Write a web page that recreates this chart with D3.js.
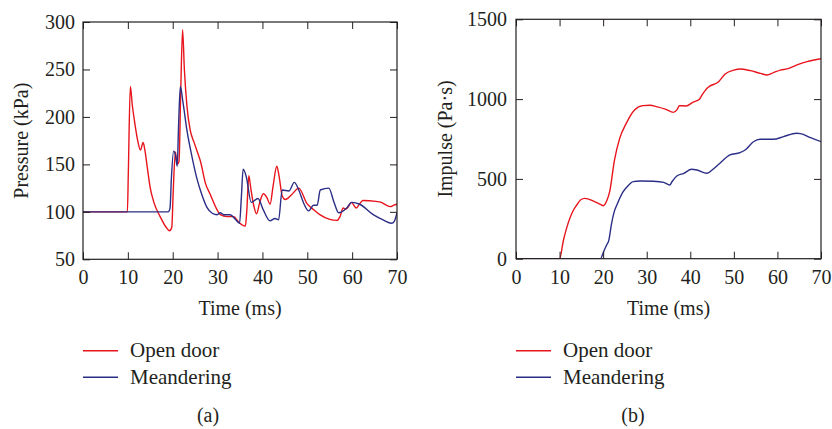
<!DOCTYPE html>
<html>
<head>
<meta charset="utf-8">
<script src="https://cdn.jsdelivr.net/npm/d3@7"></script>
<style>
  html, body { margin: 0; padding: 0; background: #fff; }
  svg { display: block; }
  text { font-family: "Liberation Serif", "DejaVu Serif", serif; fill: #231f20; }
</style>
</head>
<body>
<script>
// ---------------- DATA ----------------
const seriesNames = ["Open door", "Meandering"];
const xTicks = [0, 10, 20, 30, 40, 50, 60, 70];
const pressureTicks = [50, 100, 150, 200, 250, 300];
const impulseTicks = [0, 500, 1000, 1500];

// Pressure (kPa) vs time (ms)
const pressureOpen = [
  [0,100],[9.9,100],[10.1,140],[10.55,232],[11.0,212],[11.5,195],[12.2,175],[12.8,165],[13.4,173],
  [13.8,165],[14.3,148],[15.0,125],[15.8,110],[17.2,95],[18.5,84],[19.3,80],[19.8,84],[20.1,120],
  [20.6,163],[21.0,150],[21.4,153],[21.8,230],[22.2,292],[22.6,250],[23.2,210],[23.9,186],[24.7,174],
  [25.5,163],[26.2,153],[27.3,130],[28.4,118],[29.9,102],[30.6,97],[32.1,95],[33.6,95],[34.7,89],
  [36.2,85],[36.5,100],[36.97,138],[37.4,125],[38.0,108],[38.7,98],[39.4,110],[40.2,119],[41.0,115],
  [41.7,108],[42.4,128],[43.2,148],[43.7,138],[44.4,117],[45.1,113],[46.5,118],[48.1,125],[49.9,109],
  [51.5,102],[52.8,97],[55.0,92],[56.6,91],[57.3,95],[58.0,104],[58.6,103],[59.1,105],[59.8,110],
  [60.9,104],[61.6,108],[62.4,112],[65.3,111],[66.5,110],[67.6,107],[68.5,105.5],[69.3,107],[70,108]
];
const pressureMeander = [
  [0,100],[19.0,100],[19.4,104],[19.7,135],[20.2,164],[20.6,160],[21.0,148],[21.3,190],[21.7,232],
  [22.3,215],[23.2,185],[24.3,158],[25.4,135],[26.5,118],[27.6,105],[28.8,98.5],[29.9,97],[30.6,99],
  [31.4,97],[32.8,97],[34.0,92],[34.9,88],[35.3,115],[35.7,145],[36.4,137],[37.5,110],[39.0,114],
  [40.2,102],[41.7,90.5],[42.8,93],[43.6,91.5],[44.4,123],[45.9,122],[47.1,131],[48.1,123],[49.2,109],
  [50.3,101],[51.4,107],[52.2,107],[52.9,123],[54.8,125],[55.9,111],[57.0,99],[58.8,104],[59.9,110],
  [61.7,108],[64.7,97],[66.9,91.5],[68.8,88],[69.4,90],[70,99]
];

// Impulse (Pa·s) vs time (ms)
const impulseOpen = [
  [0,0],[10.0,0],[10.9,117],[11.6,190],[13.2,305],[13.9,335],[14.8,368],[15.8,378],[17.8,361],
  [19.4,340],[20.0,332],[20.9,368],[21.5,420],[22.6,618],[23.8,754],[25.3,848],[27.2,932],[29.1,959],
  [30.8,961],[32.2,953],[34.4,936],[36.1,917],[37.0,936],[37.5,959],[39.0,957],[40.6,980],[42.1,999],
  [42.7,1026],[43.8,1067],[44.3,1078],[46.5,1109],[48.0,1157],[50.0,1182],[51.5,1189],[53.8,1178],
  [56.1,1161],[57.6,1151],[59.1,1166],[60.7,1182],[62.2,1189],[64.5,1214],[66.8,1235],[70,1253]
];
const impulseMeander = [
  [0,0],[19.4,0],[20.1,44],[20.8,86],[21.3,115],[21.9,215],[22.5,290],[23.2,340],[24.6,420],
  [25.5,451],[26.9,483],[28.5,487],[31.6,485],[33.9,478],[35.3,462],[35.8,482],[36.9,518],[38.5,535],
  [40.3,560],[41.5,556],[43.8,535],[45.0,556],[46.8,598],[49.1,650],[51.4,664],[52.6,681],[54.5,733],
  [56.0,748],[59.1,748],[61.4,765],[64.4,786],[65.3,784],[67.6,758],[70,733]
];

// ---------------- DRAW ----------------
const colors = ["#e8141c", "#2b2e86"];
const fontFam = '"Liberation Serif", "Times New Roman", serif';
const svg = d3.select("body").append("svg").attr("width", 832).attr("height", 429);

function panel(cfg) {
  const x = d3.scaleLinear().domain([0, 70]).range([cfg.x0, cfg.x1]);
  const y = d3.scaleLinear().domain(cfg.yDomain).range([cfg.y1, cfg.y0]);
  const g = svg.append("g");
  const clipId = "clip" + cfg.id;
  svg.append("clipPath").attr("id", clipId).append("rect")
    .attr("x", cfg.x0).attr("y", cfg.y0 - 2).attr("width", cfg.x1 - cfg.x0).attr("height", cfg.y1 - cfg.y0 + 2);

  const line = d3.line().x(d => x(d[0])).y(d => y(d[1])).curve(d3.curveMonotoneX);
  cfg.series.forEach((s, i) => {
    g.append("path").datum(s).attr("d", line)
      .attr("fill", "none").attr("stroke", colors[i]).attr("stroke-width", 1.4)
      .attr("clip-path", `url(#${clipId})`);
  });

  const tickLen = 7;
  const fmt = d3.format("d");
  const axB = g.append("g").attr("transform", `translate(0,${cfg.y1})`)
    .call(d3.axisBottom(x).tickValues(xTicks).tickFormat(fmt).tickSize(-tickLen).tickSizeOuter(0).tickPadding(11));
  const axT = g.append("g").attr("transform", `translate(0,${cfg.y0})`)
    .call(d3.axisTop(x).tickValues(xTicks).tickSize(-tickLen).tickSizeOuter(0).tickFormat(""));
  const axL = g.append("g").attr("transform", `translate(${cfg.x0},0)`)
    .call(d3.axisLeft(y).tickValues(cfg.yTicks).tickFormat(fmt).tickSize(-tickLen).tickSizeOuter(0).tickPadding(cfg.yPad));
  const axR = g.append("g").attr("transform", `translate(${cfg.x1},0)`)
    .call(d3.axisRight(y).tickValues(cfg.yTicks).tickSize(-tickLen).tickSizeOuter(0).tickFormat(""));
  [axB, axT, axL, axR].forEach(a => {
    a.attr("font-family", fontFam).attr("font-size", 20);
    a.select(".domain").remove();
    a.selectAll("line").attr("stroke", "#231f20").attr("stroke-width", 1);
    a.selectAll("text").style("font-family", fontFam).style("font-size", "20px").attr("fill", "#231f20");
  });

  g.append("rect").attr("x", cfg.x0).attr("y", cfg.y0)
    .attr("width", cfg.x1 - cfg.x0).attr("height", cfg.y1 - cfg.y0)
    .attr("fill", "none").attr("stroke", "#231f20").attr("stroke-width", 1.2);

  // axis titles
  g.append("text").attr("x", (cfg.x0 + cfg.x1) / 2).attr("y", 315)
    .attr("text-anchor", "middle").style("font-size", "20px").text("Time (ms)");
  g.append("text").attr("transform", `translate(${cfg.yTitleX},${(cfg.y0 + cfg.y1) / 2}) rotate(-90)`)
    .attr("text-anchor", "middle").style("font-size", "20px").text(cfg.yTitle);

  // legend
  seriesNames.forEach((name, i) => {
    const ly = 350.7 + i * 26.6;
    g.append("line").attr("x1", cfg.legX).attr("x2", cfg.legX + 35).attr("y1", ly).attr("y2", ly)
      .attr("stroke", colors[i]).attr("stroke-width", 1.4);
    g.append("text").attr("x", cfg.legX + 47).attr("y", ly + 6.5).style("font-size", "21px").text(name);
  });

  g.append("text").attr("x", cfg.capX).attr("y", 422).attr("text-anchor", "middle")
    .style("font-size", "20px").text(cfg.caption);
}

panel({
  id: "a", x0: 83, x1: 397, y0: 22, y1: 259.3, yDomain: [50, 300], yTicks: pressureTicks, yPad: 8,
  series: [pressureOpen, pressureMeander], yTitle: "Pressure (kPa)", yTitleX: 28,
  legX: 83, capX: 208, caption: "(a)"
});
panel({
  id: "b", x0: 516, x1: 821, y0: 19.3, y1: 258.7, yDomain: [0, 1500], yTicks: impulseTicks, yPad: 9,
  series: [impulseOpen, impulseMeander], yTitle: "Impulse (Pa·s)", yTitleX: 452,
  legX: 516, capX: 633, caption: "(b)"
});
</script>
</body>
</html>
